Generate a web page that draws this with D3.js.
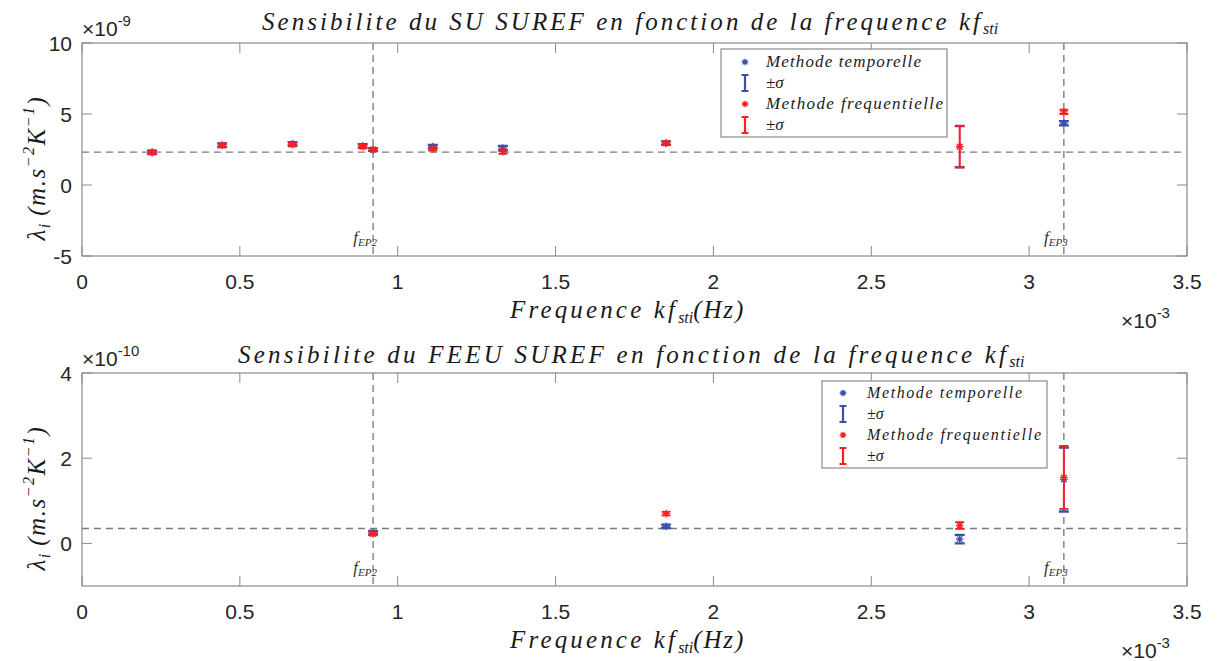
<!DOCTYPE html>
<html><head><meta charset="utf-8">
<script src="https://cdn.jsdelivr.net/npm/d3@7"></script>
<style>
body{margin:0;background:#fff;}
svg{display:block;}
</style>
</head><body>
<svg id="c" width="1220" height="661"></svg>
<script>
// ---------- data ----------
const xTicks = [0, 0.5, 1, 1.5, 2, 2.5, 3, 3.5];
const xTickLabels = ["0", "0.5", "1", "1.5", "2", "2.5", "3", "3.5"];
const yTicksTop = [-5, 0, 5, 10];
const yTicksBottom = [0, 2, 4];
// top panel (x in 1e-3 Hz, y in 1e-9)
const freqTop = [0.222, 0.444, 0.667, 0.889, 0.922, 1.111, 1.333, 1.85, 2.78, 3.11];
const tempTop = [2.3, 2.8, 2.9, 2.75, 2.5, 2.7, 2.6, 2.95, 2.7, 4.35];
const tempTopErr = [0.12, 0.12, 0.12, 0.12, 0.1, 0.12, 0.15, 0.12, 1.45, 0.15];
const freqMTop = [2.3, 2.8, 2.85, 2.7, 2.5, 2.55, 2.35, 2.95, 2.7, 5.15];
const freqMTopErr = [0.12, 0.12, 0.12, 0.12, 0.1, 0.12, 0.15, 0.12, 1.45, 0.15];
const refTopY = 2.32;
// bottom panel (x in 1e-3 Hz, y in 1e-10)
const freqBottom = [0.922, 1.85, 2.78, 3.11];
const tempBottom = [0.25, 0.4, 0.1, 1.5];
const tempBottomErr = [0.04, 0.04, 0.1, 0.75];
const freqMBottom = [0.22, 0.7, 0.42, 1.55];
const freqMBottomErr = [0.03, 0.04, 0.08, 0.74];
const refBottomY = 0.35;
const refX = [0.922, 3.11];
const refXLabels = ["EP2", "EP3"];
const legendLabels = ["Methode temporelle", "\u00B1\u03C3", "Methode frequentielle", "\u00B1\u03C3"];

const BLUE = "#3d4eab", RED = "#ff1f1f", AX = "#8a8a8a";
const SERIF = "'Liberation Serif', 'DejaVu Serif', serif";
const SANS = "'Liberation Sans', Arial, Helvetica, sans-serif";
const svg = d3.select("#c");

function mtext(g) {
  return g.append("text").attr("font-family", SERIF).attr("font-style", "italic").attr("fill", "#1a1a1a");
}
function stext(g) {
  return g.append("text").attr("font-family", SANS).attr("fill", "#262626");
}
function asterisk(g, cx, cy, col, r) {
  const p = d3.path();
  p.moveTo(cx - r, cy); p.lineTo(cx + r, cy);
  p.moveTo(cx, cy - r); p.lineTo(cx, cy + r);
  const d = r * 0.72;
  p.moveTo(cx - d, cy - d); p.lineTo(cx + d, cy + d);
  p.moveTo(cx - d, cy + d); p.lineTo(cx + d, cy - d);
  g.append("path").attr("d", p.toString()).attr("stroke", col).attr("stroke-width", 1.3).attr("fill", "none");
}
function errbar(g, cx, y1, y2, col, w, sw, csw) {
  const v = d3.path();
  v.moveTo(cx, y1); v.lineTo(cx, y2);
  g.append("path").attr("d", v.toString()).attr("stroke", col).attr("stroke-width", sw).attr("fill", "none");
  const c = d3.path();
  c.moveTo(cx - w, y1); c.lineTo(cx + w, y1);
  c.moveTo(cx - w, y2); c.lineTo(cx + w, y2);
  g.append("path").attr("d", c.toString()).attr("stroke", col).attr("stroke-width", csw).attr("fill", "none");
}

function panel(o) {
  const x = d3.scaleLinear().domain([0, 3.5]).range([82, 1187]);
  const y = d3.scaleLinear().domain(o.yDomain).range([o.bottom, o.top]);
  const g = svg.append("g");
  g.append("line").attr("x1", x(0)).attr("x2", x(3.5)).attr("y1", y(o.refY)).attr("y2", y(o.refY))
    .attr("stroke", "#7a7a7a").attr("stroke-width", 1.3).attr("stroke-dasharray", "7,5");
  refX.forEach(v => {
    g.append("line").attr("x1", x(v)).attr("x2", x(v)).attr("y1", o.top).attr("y2", o.bottom)
      .attr("stroke", "#6a6a6a").attr("stroke-width", 1.2).attr("stroke-dasharray", "7,5");
  });
  refX.forEach((v, i) => {
    const t = mtext(g).attr("x", x(v) - 8).attr("y", o.bottom - 13)
      .attr("text-anchor", "middle").attr("font-size", 17).attr("fill", "#333");
    t.append("tspan").text("f");
    t.append("tspan").attr("font-size", 11).attr("dy", 3).text(refXLabels[i]);
  });
  o.xs.forEach((v, i) => {
    errbar(g, x(v), y(o.t[i] - o.te[i]), y(o.t[i] + o.te[i]), BLUE, 5, 1.4, 2.4);
    asterisk(g, x(v), y(o.t[i]), BLUE, 3.8);
  });
  o.xs.forEach((v, i) => {
    errbar(g, x(v), y(o.f[i] - o.fe[i]), y(o.f[i] + o.fe[i]), RED, 4.5, 2, 1.8);
    asterisk(g, x(v), y(o.f[i]), RED, 3.8);
  });
  g.append("rect").attr("x", 82).attr("y", o.top).attr("width", 1105).attr("height", o.bottom - o.top)
    .attr("fill", "none").attr("stroke", AX).attr("stroke-width", 1.2);
  const tl = 10;
  xTicks.forEach((v, i) => {
    g.append("line").attr("x1", x(v)).attr("x2", x(v)).attr("y1", o.bottom).attr("y2", o.bottom - tl).attr("stroke", AX);
    g.append("line").attr("x1", x(v)).attr("x2", x(v)).attr("y1", o.top).attr("y2", o.top + tl).attr("stroke", AX);
    stext(g).attr("x", x(v)).attr("y", o.bottom + 33)
      .attr("text-anchor", "middle").attr("font-size", 21).text(xTickLabels[i]);
  });
  o.yTicks.forEach(v => {
    g.append("line").attr("x1", 82).attr("x2", 82 + tl).attr("y1", y(v)).attr("y2", y(v)).attr("stroke", AX);
    g.append("line").attr("x1", 1187).attr("x2", 1187 - tl).attr("y1", y(v)).attr("y2", y(v)).attr("stroke", AX);
    stext(g).attr("x", 72).attr("y", y(v) + 8)
      .attr("text-anchor", "end").attr("font-size", 21).text(String(v));
  });
  const ey = stext(g).attr("x", 82).attr("y", o.top - 7).attr("font-size", 21);
  ey.append("tspan").text("\u00D710");
  ey.append("tspan").attr("dy", -10).attr("font-size", 15).text(o.yExp);
  const ex = stext(g).attr("x", 1121).attr("y", o.bottom + 72).attr("font-size", 21);
  ex.append("tspan").text("\u00D710");
  ex.append("tspan").attr("dy", -10).attr("font-size", 15).text("-3");
  // title
  const tt = mtext(g).attr("x", o.titleX).attr("y", o.titleY).attr("font-size", 25);
  tt.append("tspan").text(o.title + " kf").attr("textLength", o.titleLen).attr("lengthAdjust", "spacing");
  tt.append("tspan").attr("font-size", 16).attr("dy", 4).text("sti");
  // x label
  const xl = mtext(g).attr("x", 510).attr("y", o.bottom + 62).attr("font-size", 25);
  xl.append("tspan").text("Frequence kf").attr("textLength", 165).attr("lengthAdjust", "spacing");
  xl.append("tspan").attr("font-size", 16).attr("dy", 5).text("sti");
  xl.append("tspan").attr("dy", -5).text("(Hz)").attr("textLength", 50).attr("lengthAdjust", "spacing");
  // y label
  const cy = (o.top + o.bottom) / 2;
  const yl = mtext(g).attr("transform", `translate(45,${cy + o.ylen / 2}) rotate(-90)`)
    .attr("font-size", 25).attr("letter-spacing", 1.5);
  yl.append("tspan").text("\u03BB");
  yl.append("tspan").attr("font-size", 16).attr("dy", 5).text("i");
  yl.append("tspan").attr("dy", -5).text("\u2009(m.s");
  yl.append("tspan").attr("font-size", 16).attr("dy", -11).text("\u22122");
  yl.append("tspan").attr("dy", 11).text("K");
  yl.append("tspan").attr("font-size", 16).attr("dy", -11).text("\u22121");
  yl.append("tspan").attr("dy", 11).text(")");
  // legend
  const L = o.legend;
  g.append("rect").attr("x", L.x).attr("y", L.y).attr("width", L.w).attr("height", L.h)
    .attr("fill", "#fff").attr("stroke", "#8a8a8a").attr("stroke-width", 1.2);
  const cols = [BLUE, BLUE, RED, RED];
  legendLabels.forEach((lab, i) => {
    const ry = L.y + L.r0 + i * L.dr;
    if (i % 2 === 0) asterisk(g, L.mx, ry, cols[i], 3.3);
    else errbar(g, L.mx, ry - 8, ry + 8, cols[i], 3.5, 2.2, 2.2);
    const t = mtext(g).attr("x", L.tx).attr("y", ry + 5).attr("font-size", L.fs).text(lab);
    if (i % 2 === 0) t.attr("textLength", i === 0 ? L.w0 : L.w2).attr("lengthAdjust", "spacing");
  });
}

panel({
  top: 43, bottom: 256, yDomain: [-5, 10], yTicks: yTicksTop, yExp: "-9",
  xs: freqTop, t: tempTop, te: tempTopErr, f: freqMTop, fe: freqMTopErr, refY: refTopY,
  title: "Sensibilite du SU SUREF en fonction de la frequence", titleX: 262, titleY: 30, titleLen: 718,
  ylen: 182,
  legend: {x: 721, y: 49, w: 226, h: 88, r0: 13, dr: 21, mx: 745, tx: 766, fs: 17, w0: 155, w2: 177}
});
panel({
  top: 373, bottom: 586, yDomain: [-1, 4], yTicks: yTicksBottom, yExp: "-10",
  xs: freqBottom, t: tempBottom, te: tempBottomErr, f: freqMBottom, fe: freqMBottomErr, refY: refBottomY,
  title: "Sensibilite du FEEU SUREF en fonction de la frequence", titleX: 238, titleY: 363, titleLen: 768,
  ylen: 182,
  legend: {x: 822, y: 381, w: 225, h: 87, r0: 12, dr: 21, mx: 843, tx: 867, fs: 16, w0: 155, w2: 174}
});
</script>
</body></html>
